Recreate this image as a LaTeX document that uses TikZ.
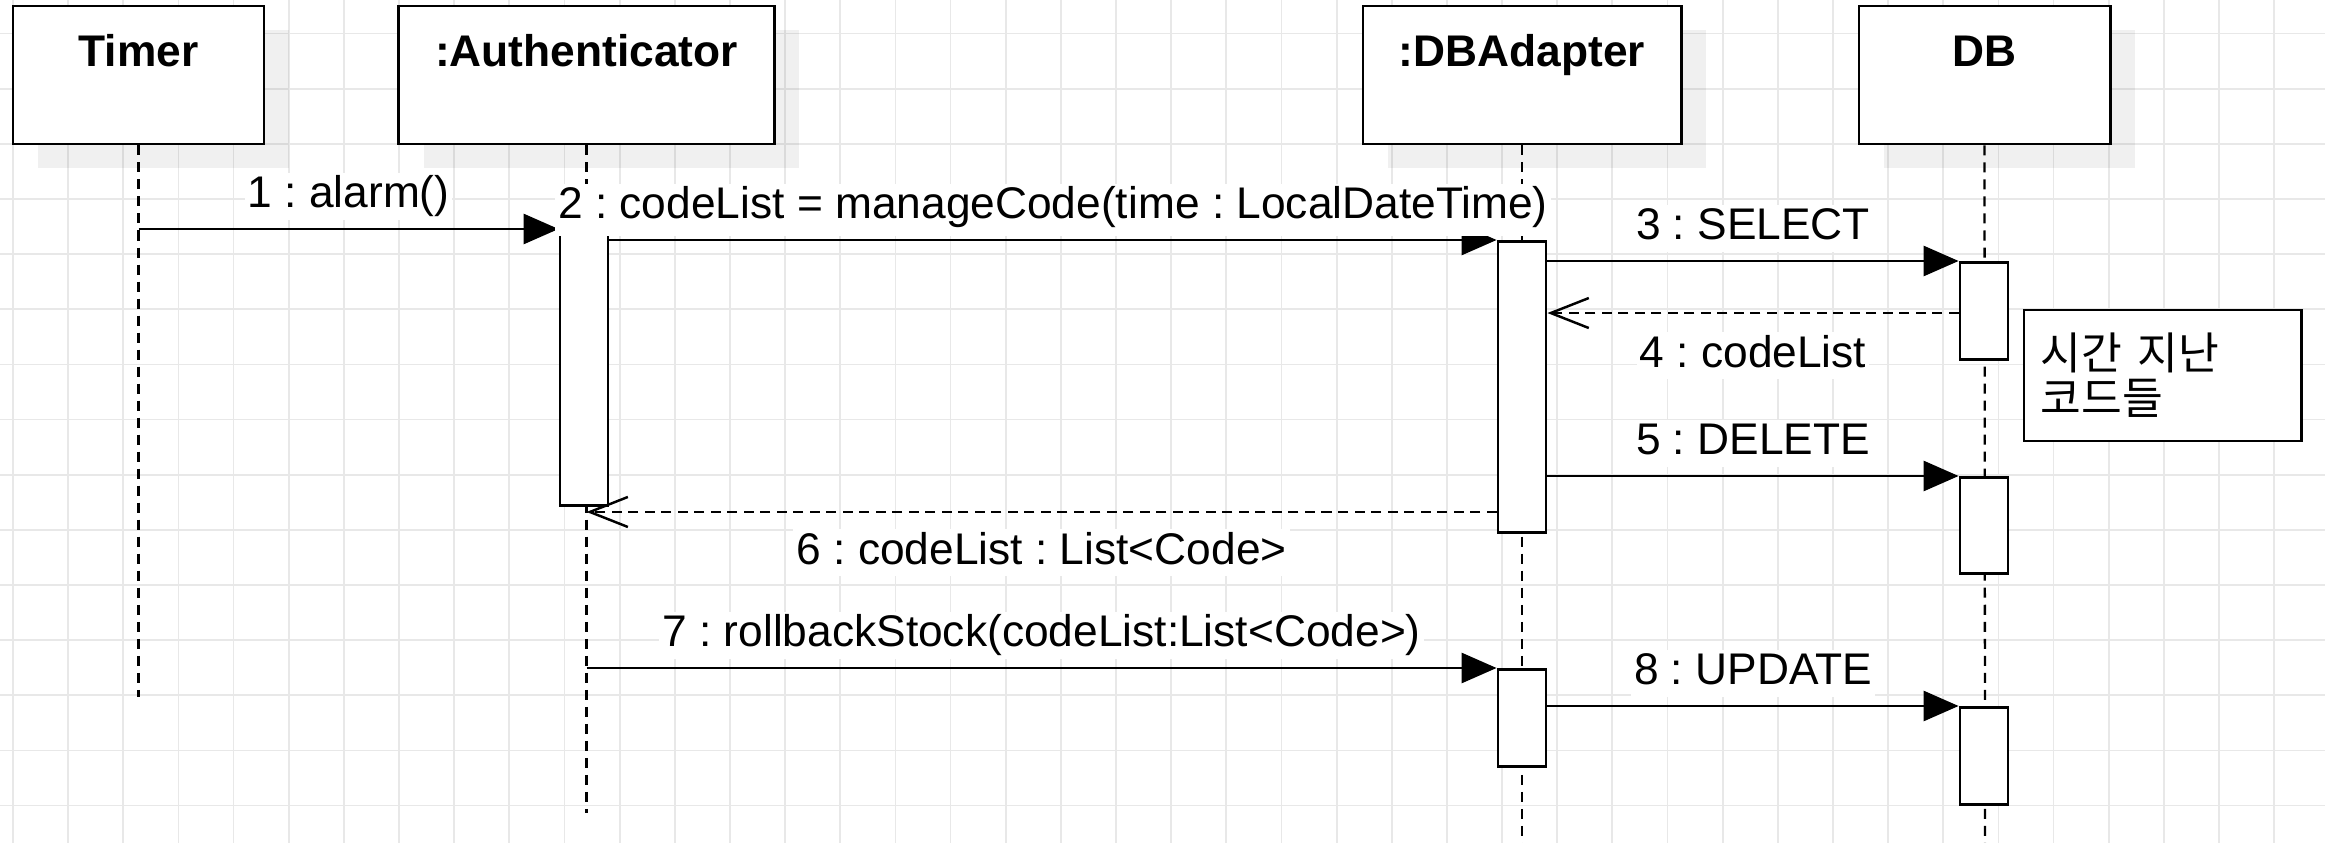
\documentclass[tikz,border=0pt]{standalone}
\usepackage{fontspec}
\setmainfont{Liberation Sans}
\newfontfamily\krfont{Noto Sans CJK KR}
\usetikzlibrary{arrows.meta,shadows}
\frenchspacing

\definecolor{gridgray}{HTML}{E8E8E8}

\tikzset{
  head/.style={draw,fill=white,line width=0.8pt,minimum height=1.38cm,inner sep=0pt,
    drop shadow={shadow xshift=0.25cm,shadow yshift=-0.24cm,fill=black,opacity=0.06}},
  headtxt/.style={anchor=north,yshift=-0.28cm,inner sep=0pt,text height=0.33cm,
    font=\bfseries\fontsize{12.6}{15}\selectfont},
  bar/.style={draw,fill=white,line width=0.8pt,minimum width=0.48cm,anchor=north,inner sep=0pt},
  life/.style={line width=0.65pt,dash pattern=on 0.1cm off 0.07cm},
  call/.style={draw,line width=0.8pt,-{Triangle[length=0.35cm,width=0.3cm]}},
  ret/.style={draw,line width=0.7pt,dash pattern=on 0.1cm off 0.065cm,
    -{Straight Barb[length=0.38cm,width=0.3cm,line width=0.7pt]}},
  msglbl/.style={fill=white,inner xsep=0.03cm,inner ysep=0.02cm,text height=0.33cm,text depth=0.1cm,
    font=\fontsize{12.6}{15}\selectfont},
  notebox/.style={draw,fill=white,line width=0.8pt,minimum width=2.77cm,minimum height=1.31cm,
    inner xsep=0.17cm,text width=2.43cm,align=left,font=\krfont\fontsize{12.6}{12.8}\selectfont}
}

\begin{document}
\begin{tikzpicture}[x=0.01cm,y=-0.01cm]

  \fill[white] (0,0) rectangle (2325,843);
  \useasboundingbox (0,0) rectangle (2325,843);

  \foreach \i in {0,...,41}
    \draw[gridgray,line width=0.5pt] ({13+55.15*\i},0) -- ++(0,843);
  \foreach \j in {0,...,14}
    \draw[gridgray,line width=0.5pt] (0,{33.5+55.15*\j}) -- ++(2325,0);

  \node[head,minimum width=2.51cm,label={[headtxt]north:Timer}]         (timer) at (138.5,75)  {};
  \node[head,minimum width=3.75cm,label={[headtxt]north::Authenticator}] (auth)  at (586.5,75)  {};
  \node[head,minimum width=3.18cm,label={[headtxt]north::DBAdapter}]     (dba)   at (1522,75)   {};
  \node[head,minimum width=2.51cm,label={[headtxt]north:DB}]            (db)    at (1984.5,75) {};

  \coordinate (tEnd) at (138.5,697);
  \coordinate (aEnd) at (586.5,813);
  \coordinate (dEnd) at (1522,843);
  \coordinate (bEnd) at (1985,843);

  \draw[life] (timer.south) -- (tEnd);
  \draw[life] (auth.south)  -- (aEnd);
  \draw[life] (dba.south)   -- (dEnd);
  \draw[life] (db.south)    -- (bEnd);

  \begin{scope}[every node/.style={bar}]
    \node[minimum height=2.75cm] (bA)  at (584,229)  {};
    \node[minimum height=2.91cm] (bD1) at (1522,240) {};
    \node[minimum height=0.97cm] (bD2) at (1522,668) {};
    \node[minimum height=0.97cm] (bB1) at (1984,261) {};
    \node[minimum height=0.96cm] (bB2) at (1984,476) {};
    \node[minimum height=0.97cm] (bB3) at (1984,706) {};
  \end{scope}

  \coordinate (r4) at ([yshift=-0.52cm]bB1.north west);
  \coordinate (r6) at ([yshift=0.22cm]bD1.south west);

  \begin{scope}[every node/.style={msglbl}]
    \path (timer |- bA.north west) edge[call] node[above=0.08cm] {1 : alarm()} (bA.north west);
    \path (bA.east |- bD1.north west) edge[call] node[above=0.03cm,text depth=0.15cm] {2 : codeList = manageCode(time : LocalDateTime)} (bD1.north west);
    \path (bD1.east |- bB1.north west) edge[call] node[above=0.08cm] {3 : SELECT} (bB1.north west);
    \path (r4) edge[ret] node[below=0.18cm] {4 : codeList} (bD1.east |- r4);
    \path (bD1.east |- bB2.north west) edge[call] node[above=0.08cm] {5 : DELETE} (bB2.north west);
    \path (r6) edge[ret] node[below=0.16cm] {6 : codeList : List<Code>} (auth |- r6);
    \path (auth |- bD2.north west) edge[call] node[above=0.08cm] {7 : rollbackStock(codeList:List<Code>)} (bD2.north west);
    \path (bD2.east |- bB3.north west) edge[call] node[above=0.08cm] {8 : UPDATE} (bB3.north west);
  \end{scope}

  \node[notebox] (note) at (2162.5,375.5) {시간 지난\\코드들};

\end{tikzpicture}
\end{document}
